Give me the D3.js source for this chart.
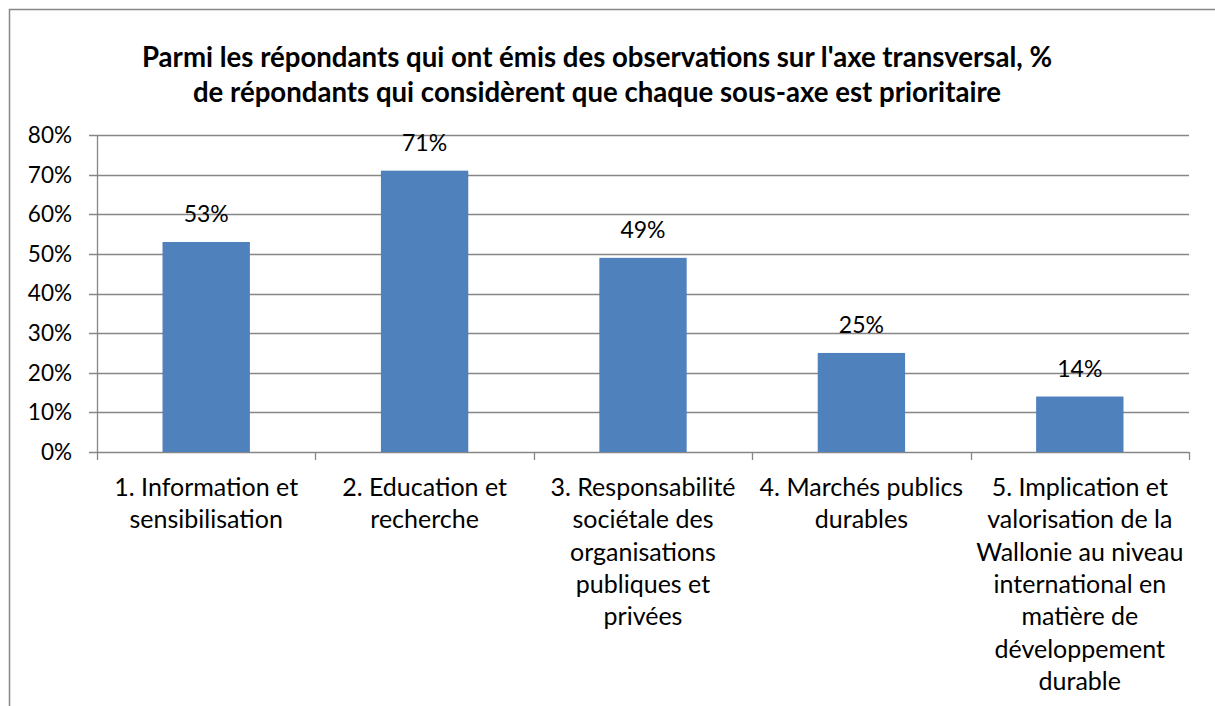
<!DOCTYPE html>
<html><head><meta charset="utf-8">
<script src="https://cdn.jsdelivr.net/npm/d3@7"></script>
<style>
html,body{margin:0;padding:0;background:#fff;overflow:hidden;}
svg{display:block;}
svg text{font-family:"Lato","Open Sans",sans-serif;fill:#000;}
</style></head>
<body><svg id="chart" width="1215" height="706"></svg>
<script>
const titleLines = ["Parmi les répondants qui ont émis des observations sur l'axe transversal, %",
                    "de répondants qui considèrent que chaque sous-axe est prioritaire"];
const categories = ["c1","c2","c3","c4","c5"];
const categoryLabels = [
  ["1. Information et","sensibilisation"],
  ["2. Education et","recherche"],
  ["3. Responsabilité","sociétale des","organisations","publiques et","privées"],
  ["4. Marchés publics","durables"],
  ["5. Implication et","valorisation de la","Wallonie au niveau","international en","matière de","développement","durable"]
];
const values = [0.53, 0.71, 0.49, 0.25, 0.14];
const yTicks = [0,0.1,0.2,0.3,0.4,0.5,0.6,0.7,0.8];

const svg = d3.select("#chart");
svg.append("rect").attr("x",9.5).attr("y",9.5).attr("width",1220).attr("height",720)
  .attr("fill","none").attr("stroke","#878787").attr("stroke-width",1.5);

const pLeft=97, pRight=1189, pTop=135, pBottom=452;
const x = d3.scaleBand().domain(categories).range([pLeft,pRight]).paddingInner(0.6).paddingOuter(0.3);
const xc = d3.scaleBand().domain(categories).range([pLeft,pRight]).padding(0);
const y = d3.scaleLinear().domain([0,0.8]).range([pBottom,pTop]);

// title
svg.append("g").selectAll("text").data(titleLines).join("text")
  .attr("x",597).attr("y",(d,i)=>67+i*34.5).attr("text-anchor","middle")
  .attr("font-weight","bold").attr("font-size",27.6).text(d=>d);

// gridlines
const gridColor="#868686";
svg.append("g").selectAll("line").data(yTicks).join("line")
  .attr("x1",pLeft-8).attr("x2",pRight).attr("y1",d=>Math.round(y(d))+0.5).attr("y2",d=>Math.round(y(d))+0.5)
  .attr("stroke",gridColor).attr("stroke-width",1.3);

// y axis line
svg.append("line").attr("x1",pLeft+0.5).attr("x2",pLeft+0.5).attr("y1",pTop).attr("y2",pBottom+0.5)
  .attr("stroke",gridColor).attr("stroke-width",1.3);

// y tick labels
svg.append("g").selectAll("text").data(yTicks).join("text")
  .attr("x",72).attr("y",d=>y(d)).attr("dy","0.35em").attr("text-anchor","end")
  .attr("font-size",22.5).text(d=>d3.format(".0%")(d));

// x tick marks
const xTickPos = categories.map(c=>xc(c)).concat([pRight]);
svg.append("g").selectAll("line").data(xTickPos).join("line")
  .attr("x1",d=>Math.round(d)+0.5).attr("x2",d=>Math.round(d)+0.5).attr("y1",pBottom).attr("y2",pBottom+8)
  .attr("stroke",gridColor).attr("stroke-width",1.3);

// bars
svg.append("g").selectAll("rect").data(values).join("rect")
  .attr("x",(d,i)=>x(categories[i])).attr("width",x.bandwidth())
  .attr("y",d=>y(d)).attr("height",d=>pBottom-y(d)).attr("fill","#4f81bd");

// data labels
svg.append("g").selectAll("text").data(values).join("text")
  .attr("x",(d,i)=>x(categories[i])+x.bandwidth()/2).attr("y",d=>y(d)-20)
  .attr("text-anchor","middle").attr("font-size",23).text(d=>d3.format(".0%")(d));

// category labels
const cg = svg.append("g").selectAll("text").data(categoryLabels).join("text")
  .attr("text-anchor","middle").attr("font-size",25);
cg.each(function(lines,i){
  const cx = xc(categories[i])+xc.bandwidth()/2;
  d3.select(this).selectAll("tspan").data(lines).join("tspan")
    .attr("x",cx).attr("y",(d,j)=>496+j*32.3).text(d=>d);
});
</script></body></html>
